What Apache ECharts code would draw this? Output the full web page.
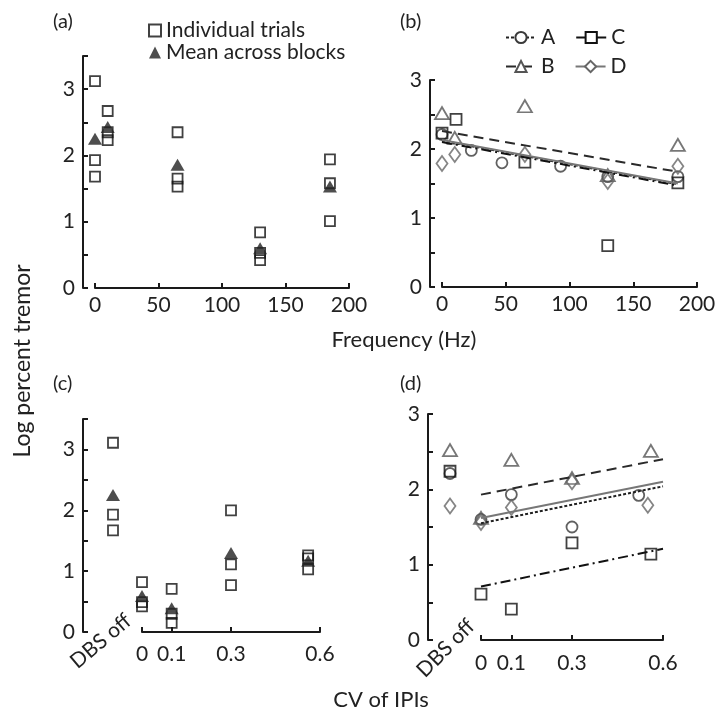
<!DOCTYPE html>
<html><head><meta charset="utf-8">
<script src="https://cdn.jsdelivr.net/npm/echarts@6/dist/echarts.min.js"></script>
<style>html,body{margin:0;padding:0;background:#fff}#c{width:723px;height:728px}</style>
</head><body><div id="c"></div>
<script>
// ---------- DATA ----------
// Panel (a): log percent tremor vs stimulation frequency (Hz)
const freqLevels = [0, 10, 65, 130, 185];
const freqTrials = [[3.12, 1.93, 1.68], [2.67, 2.35, 2.23], [2.35, 1.65, 1.53], [0.84, 0.53, 0.42], [1.94, 1.58, 1.01]];
const freqMeans = [2.25, 2.43, 1.86, 0.60, 1.53];

// Panel (b): per patient vs frequency
const freqA = [0, 23, 47, 93, 130, 185];
const logFreqA = [2.21, 1.98, 1.80, 1.75, 1.60, 1.60];
const freqB = [0, 10, 65, 130, 185];
const logFreqB = [2.52, 2.16, 2.62, 1.62, 2.06];
const freqC = [0, 11, 65, 130, 185];
const logFreqC = [2.23, 2.43, 1.81, 0.60, 1.51];
const freqD = [0, 10, 65, 130, 185];
const logFreqD = [1.79, 1.92, 1.92, 1.53, 1.75];
const fitFreqX = [0, 185];
const fitFreqA = [2.12, 1.49];
const fitFreqB = [2.26, 1.67];
const fitFreqC = [2.10, 1.47];
const fitFreqD = [2.13, 1.50];

// Panel (c): log percent tremor vs CV of IPIs
const dbsCategory = ['DBS off'];
const dbsOffTrials = [3.11, 1.93, 1.67];
const dbsOffMean = [2.25];
const cvLevels = [0, 0.1, 0.3, 0.56];
const cvTrials = [[0.82, 0.49, 0.42], [0.71, 0.30, 0.15], [2.00, 1.11, 0.77], [1.26, 1.21, 1.03]];
const cvMeans = [0.59, 0.39, 1.30, 1.17];
const cvTicks = [0, 0.1, 0.3, 0.6];
const freqTicks = [0, 50, 100, 150, 200];

// Panel (d): per patient vs CV
const dbsOffA = [2.21];
const dbsOffB = [2.52];
const dbsOffC = [2.24];
const dbsOffD = [1.78];
const cvA = [0, 0.1, 0.3, 0.52];
const logCvA = [1.60, 1.93, 1.50, 1.92];
const cvB = [0, 0.1, 0.3, 0.56];
const logCvB = [1.62, 2.39, 2.15, 2.51];
const cvC = [0, 0.1, 0.3, 0.56];
const logCvC = [0.61, 0.41, 1.29, 1.14];
const cvD = [0, 0.1, 0.3, 0.55];
const logCvD = [1.56, 1.76, 2.10, 1.79];
const fitCvX = [0, 0.6];
const fitCvA = [1.55, 2.04];
const fitCvB = [1.93, 2.40];
const fitCvC = [0.71, 1.21];
const fitCvD = [1.62, 2.10];

// ---------- STYLE ----------
const FONT = 'Lato';
const INK = '#1a1a1a';
const TXT = '#222';
const TICK_FS = 21;
const pStyle = {
  A: { symbol: 'circle', size: 11, color: '#3a3a3a', dash: [3, 2], line: '#222', emp: 'emptyCircle' },
  B: { symbol: 'triangle', size: [14, 12], color: '#555', dash: [10, 6], line: '#2a2a2a', emp: 'emptyTriangle' },
  C: { symbol: 'rect', size: 11, color: '#111', dash: [10, 4, 2, 4], line: '#111', emp: 'emptyRect' },
  D: { symbol: 'diamond', size: [11, 15], color: '#666', dash: 'solid', line: '#777', emp: 'emptyDiamond' }
};

const pairs = (xs, ys) => xs.map((x, i) => [x, ys[i]]);
const intLabel = v => (Math.abs(v - Math.round(v)) < 1e-6 ? String(Math.round(v)) : '');

function yAx(grid, max, offset) {
  return {
    type: 'value', gridIndex: grid, min: 0, max: max, interval: 0.5, offset: offset,
    axisLine: { show: true, onZero: false, lineStyle: { color: INK, width: 2 } },
    axisTick: { show: true, inside: true, length: 5, lineStyle: { color: INK, width: 2 } },
    axisLabel: { fontFamily: FONT, fontSize: TICK_FS, color: TXT, margin: 8, formatter: intLabel },
    splitLine: { show: false }
  };
}
function yHidden(grid, max) {
  return { type: 'value', gridIndex: grid, min: 0, max: max, show: false, splitLine: { show: false } };
}
function xVal(grid, max, ticks, margin) {
  return {
    type: 'value', gridIndex: grid, min: 0, max: max,
    axisLine: { show: true, onZero: false, lineStyle: { color: INK, width: 2 } },
    axisTick: { show: true, inside: true, length: 5, customValues: ticks, lineStyle: { color: INK, width: 2 } },
    axisLabel: { fontFamily: FONT, fontSize: TICK_FS, color: TXT, margin: margin, customValues: ticks },
    splitLine: { show: false }
  };
}
function xDbs(grid, rot, margin, pad) {
  return {
    type: 'category', gridIndex: grid, data: dbsCategory, boundaryGap: true,
    axisLine: { show: false }, axisTick: { show: false },
    axisLabel: { interval: 0, rotate: rot, margin: margin, padding: [0, pad, 0, 0], fontFamily: FONT, fontSize: TICK_FS, color: TXT },
    splitLine: { show: false }
  };
}

const grids = [
  { left: 95, top: 56, width: 254, height: 232 },   // 0 (a)
  { left: 442, top: 80, width: 255, height: 207 },  // 1 (b)
  { left: 142, top: 419, width: 178, height: 213 }, // 2 (c)
  { left: 103, top: 419, width: 20, height: 213 },  // 3 (c) DBS off
  { left: 481, top: 414, width: 182, height: 226 }, // 4 (d)
  { left: 440, top: 414, width: 20, height: 226 }   // 5 (d) DBS off
].map(g => Object.assign({ outerBoundsMode: 'none', containLabel: false }, g));

const xAxes = [
  xVal(0, 200, freqTicks, 7),
  xVal(1, 200, freqTicks, 7),
  xVal(2, 0.6, cvTicks, 12),
  xDbs(3, 40, -1, -20),
  xVal(4, 0.6, cvTicks, 13),
  xDbs(5, 45, 4, -30)
];
const yAxes = [
  yAx(0, 3.5, 12),
  yAx(1, 3, 12),
  yAx(2, 3.5, 59),
  yHidden(3, 3.5),
  yAx(4, 3, 53),
  yHidden(5, 3)
];

const trialStyle = { color: 'rgba(0,0,0,0)', borderColor: '#111', borderWidth: 1.8 };
const meanStyle = { color: '#222' };
function trials(name, xi, data) {
  return { name: name, type: 'scatter', xAxisIndex: xi, yAxisIndex: xi, symbol: 'rect', symbolSize: 10, clip: false, itemStyle: trialStyle, data: data, z: 2 };
}
function means(name, xi, data) {
  return { name: name, type: 'scatter', xAxisIndex: xi, yAxisIndex: xi, symbol: 'triangle', symbolSize: [14, 12], clip: false, itemStyle: meanStyle, data: data, z: 3 };
}
function fitLine(p, xi, xs, ys) {
  const s = pStyle[p];
  return {
    name: p, type: 'line', xAxisIndex: xi, yAxisIndex: xi, data: pairs(xs, ys),
    symbol: s.emp, symbolSize: 11, showSymbol: false, silent: true, z: 3,
    itemStyle: { color: s.color }, lineStyle: { color: s.line, width: 2, type: s.dash }
  };
}
function pts(p, xi, data) {
  const s = pStyle[p];
  return {
    name: p, type: 'scatter', xAxisIndex: xi, yAxisIndex: xi, symbol: s.symbol, symbolSize: s.size, clip: false, z: 2,
    itemStyle: { color: 'rgba(0,0,0,0)', borderColor: s.color, borderWidth: 1.8 }, data: data
  };
}

const series = [
  // (a)
  trials('Individual trials', 0, freqLevels.flatMap((f, i) => freqTrials[i].map(v => [f, v]))),
  means('Mean across blocks', 0, pairs(freqLevels, freqMeans)),
  // (b) fits first so legend uses line icons
  fitLine('A', 1, fitFreqX, fitFreqA),
  fitLine('B', 1, fitFreqX, fitFreqB),
  fitLine('C', 1, fitFreqX, fitFreqC),
  fitLine('D', 1, fitFreqX, fitFreqD),
  pts('A', 1, pairs(freqA, logFreqA)),
  pts('B', 1, pairs(freqB, logFreqB)),
  pts('C', 1, pairs(freqC, logFreqC)),
  pts('D', 1, pairs(freqD, logFreqD)),
  // (c)
  trials('Individual trials', 2, cvLevels.flatMap((c, i) => cvTrials[i].map(v => [c, v]))),
  means('Mean across blocks', 2, pairs(cvLevels, cvMeans)),
  trials('Individual trials', 3, dbsOffTrials.map(v => [dbsCategory[0], v])),
  means('Mean across blocks', 3, dbsOffMean.map(v => [dbsCategory[0], v])),
  // (d)
  fitLine('A', 4, fitCvX, fitCvA),
  fitLine('B', 4, fitCvX, fitCvB),
  fitLine('C', 4, fitCvX, fitCvC),
  fitLine('D', 4, fitCvX, fitCvD),
  pts('A', 4, pairs(cvA, logCvA)),
  pts('B', 4, pairs(cvB, logCvB)),
  pts('C', 4, pairs(cvC, logCvC)),
  pts('D', 4, pairs(cvD, logCvD)),
  pts('A', 5, dbsOffA.map(v => [dbsCategory[0], v])),
  pts('B', 5, dbsOffB.map(v => [dbsCategory[0], v])),
  pts('C', 5, dbsOffC.map(v => [dbsCategory[0], v])),
  pts('D', 5, dbsOffD.map(v => [dbsCategory[0], v]))
];

const legendText = { fontFamily: FONT, fontSize: 21, color: TXT };
const legends = [
  { data: ['Individual trials', 'Mean across blocks'], orient: 'vertical', left: 148, top: 20, itemWidth: 12, itemHeight: 12, itemGap: 1, padding: 0, selectedMode: false, textStyle: legendText },
  { data: ['A', 'C'], orient: 'horizontal', left: 505, top: 27, itemWidth: 30, itemHeight: 14, itemGap: 20, padding: 0, selectedMode: false, textStyle: legendText },
  { data: ['B', 'D'], orient: 'horizontal', left: 505, top: 56, itemWidth: 30, itemHeight: 14, itemGap: 20, padding: 0, selectedMode: false, textStyle: legendText }
];

const panelTitle = (t, l, tp) => ({ text: t, left: l, top: tp, padding: 0, textStyle: { fontFamily: FONT, fontSize: 20, fontWeight: 'normal', color: TXT } });
const titles = [panelTitle('(a)', 53, 12), panelTitle('(b)', 400, 12), panelTitle('(c)', 53, 374), panelTitle('(d)', 400, 374)];

const axisTitle = (t, x, y, fs, rot) => ({
  type: 'text', x: x, y: y, rotation: rot || 0,
  style: { text: t, fill: TXT, font: fs + 'px ' + FONT, align: 'center', verticalAlign: 'middle' }
});

const chart = echarts.init(document.getElementById('c'), null, { renderer: 'canvas' });
chart.setOption({
  backgroundColor: '#fff',
  animation: false,
  title: titles,
  legend: legends,
  grid: grids,
  xAxis: xAxes,
  yAxis: yAxes,
  series: series,
  graphic: [
    axisTitle('Frequency (Hz)', 404, 340, 22),
    axisTitle('Log percent tremor', 23, 361, 23, Math.PI / 2),
    axisTitle('CV of IPIs', 381, 700, 22)
  ]
});
</script></body></html>
